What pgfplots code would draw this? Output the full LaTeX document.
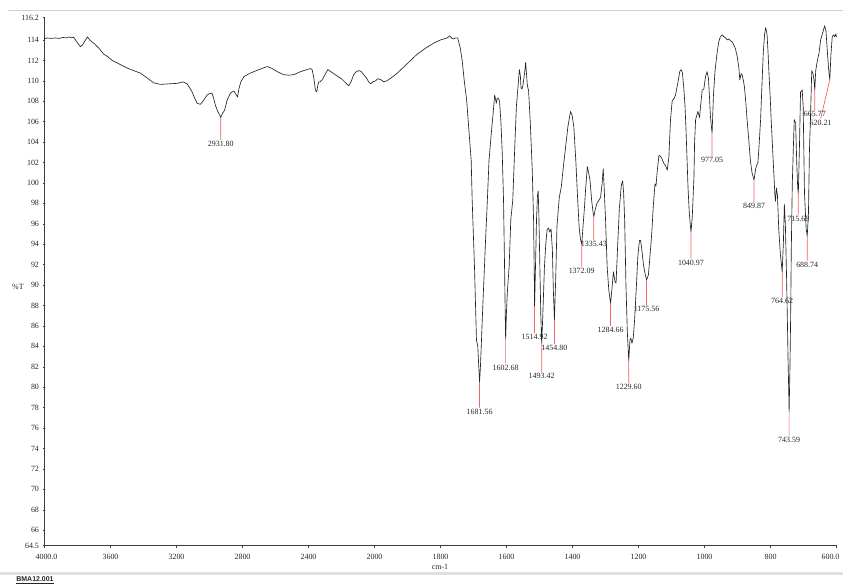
\documentclass[border=0pt]{standalone}
\usepackage{fontspec}
\setmainfont{Liberation Serif}
\newfontfamily\arialfont{Liberation Sans}
\usepackage{pgfplots}
\usepackage{pgfplotstable}
\pgfplotsset{compat=1.18}
\definecolor{peakred}{RGB}{238,100,100}
\definecolor{curvecol}{RGB}{35,35,35}
\definecolor{axisgray}{RGB}{60,60,60}
% wavenumber -> axis position (scale change at 2000 cm-1)
\pgfmathdeclarefunction{wn}{1}{\pgfmathparse{(4000-#1+max(0,2000-#1))/400}}

\pgfplotstableread{
w v
4000 114.1
3985 114.2
3960 114.15
3935 114.2
3910 114.15
3890 114.25
3870 114.2
3850 114.3
3835 114.2
3825 114.3
3812 114.0
3800 113.7
3782 113.35
3770 113.5
3755 113.9
3740 114.3
3725 114.0
3711 113.8
3695 113.6
3681 113.35
3670 113.2
3661 113.0
3640 112.6
3620 112.4
3590 112.0
3559 111.75
3530 111.5
3499 111.25
3460 111.0
3418 110.75
3380 110.3
3338 109.8
3297 109.65
3250 109.7
3196 109.75
3170 109.85
3160 109.9
3135 109.7
3120 109.3
3105 108.9
3090 108.3
3075 107.8
3055 107.7
3035 108.1
3015 108.6
3000 108.75
2985 108.8
2975 108.3
2964 107.6
2950 107.0
2940 106.7
2931.8 106.4
2922 106.8
2909 107.1
2893 108.1
2873 108.8
2853 109.0
2840 108.7
2830 108.4
2822 109.2
2810 109.9
2792 110.4
2760 110.7
2731 110.9
2700 111.1
2650 111.4
2620 111.2
2590 110.9
2550 110.6
2520 110.55
2489 110.6
2448 110.9
2410 111.1
2388 111.2
2378 111.1
2368 110.3
2358 109.1
2350 108.9
2343 109.6
2338 109.9
2330 109.9
2317 110.1
2300 110.6
2283 111.1
2265 110.9
2247 110.7
2200 110.2
2156 109.5
2140 110.0
2126 110.6
2110 110.9
2095 111.0
2080 110.9
2065 110.6
2050 110.3
2035 109.9
2024 109.7
2010 109.9
1997 110.0
1990 110.2
1980 110.1
1972 109.9
1962 110.0
1945 110.4
1931 110.75
1900 111.7
1871 112.6
1845 113.2
1820 113.7
1800 114.0
1790 114.1
1780 114.2
1772 114.4
1765 114.15
1760 114.1
1755 114.2
1748 114.2
1740 113.2
1734 111.9
1728 110.0
1721 108.2
1714 105.2
1707 102.2
1704 98.3
1697 91.8
1691 84.6
1687 84.0
1684 82.0
1681.56 80.5
1679 82.0
1677 83.6
1673 87.0
1669 90.1
1664 94.0
1658 98.3
1653 102.2
1646 104.9
1640 107.0
1636 108.6
1633 108.2
1631 107.8
1628 108.3
1625 108.3
1621 108.0
1617 106.0
1613 103.0
1609 98.3
1606 92.0
1604 87.5
1602.68 84.75
1600 87.5
1597 89.5
1592 91.8
1587 96.4
1581 98.3
1575 103.5
1570 107.5
1565 109.5
1561 111.1
1558 110.5
1556 109.3
1553 109.2
1550 109.6
1545 110.8
1542 111.8
1539 110.5
1537 109.6
1533 109.0
1528 106.0
1522 101.3
1518 96.4
1516 91.5
1514.92 87.9
1512 92.0
1509 96.5
1506 98.8
1504 99.2
1502 97.0
1499 92.0
1496 87.0
1493.42 84.3
1490 87.0
1485 91.8
1481 94.0
1477 95.4
1473 95.6
1469 95.2
1465 95.5
1461 93.5
1458 89.5
1454.8 86.6
1451 90.5
1447 95.8
1440 98.6
1434 99.6
1428 101.5
1421 103.5
1414 105.5
1406 107.0
1401 106.6
1396 105.5
1390 102.2
1385 98.8
1380 95.7
1376 94.5
1372.09 94.0
1368 95.8
1364 97.5
1360 99.5
1355 101.6
1350 100.8
1347 100.3
1342 98.3
1338 97.2
1335.43 96.7
1331 97.4
1326 98.0
1320 98.3
1315 98.6
1310 100.0
1307 101.4
1304 99.5
1300 96.5
1295 91.8
1290 89.5
1284.66 88.2
1280 89.8
1276 91.3
1271 90.3
1268 90.2
1263 94.0
1258 97.5
1252 99.8
1248 100.2
1245 99.0
1242 96.4
1238 90.0
1234 85.5
1229.6 82.6
1226 84.6
1223 84.8
1220 84.3
1216 84.8
1212 86.5
1207 89.5
1202 92.8
1197 94.4
1194 94.4
1190 93.5
1185 92.0
1180 91.1
1175.56 90.5
1170 91.0
1166 92.5
1160 95.0
1155 97.8
1150 99.9
1147 99.7
1143 101.25
1138 102.7
1133 102.6
1128 102.3
1123 101.9
1118 101.7
1113 101.25
1108 102.5
1103 106.2
1098 108.0
1092 108.3
1088 108.6
1081 109.75
1075 110.9
1071 111.1
1067 110.8
1063 109.4
1059 107.5
1056 105.2
1050 99.6
1046 97.0
1040.97 95.2
1037 96.7
1032 100.6
1030 104.0
1027 106.2
1020 107.0
1015 106.4
1012 107.5
1007 109.1
1002 109.2
997 110.4
992 110.9
988 110.2
985 108.5
982 106.5
977.05 104.85
973 108.5
968 111.0
962 112.7
957 113.8
952 114.3
946 114.5
941 114.3
936 114.2
931 114.0
926 114.1
921 113.9
916 113.8
911 113.5
906 113.1
901 112.4
896 111.3
893 110.1
889 110.7
886 110.6
882 110.0
879 109.4
875 108.0
871 106.2
866 104.3
861 102.2
856 101.0
849.87 100.3
845 101.4
841 101.8
838 102.0
834 104.0
830 106.2
826 109.5
822 112.7
818 114.5
815 115.2
812 114.9
810 114.3
807 112.5
805 111.0
801 108.5
798 106.2
794 103.6
790 101.0
787 99.0
785 98.2
782 99.5
779 98.8
775 95.5
770 93.0
764.62 91.3
761 94.1
758 97.9
755 96.0
752 91.8
749 86.9
747 83.0
745 80.0
743.59 77.6
741 82.0
739 86.9
737 93.4
734 99.9
731 103.2
728 106.2
724 105.9
720 101.5
717.5 99.5
715.68 99.0
712 104.0
709 108.9
704 109.1
701 107.5
697 99.0
692 95.5
688.74 94.8
685 97.0
682 103.2
679 106.2
675 111.0
671 110.7
668 110.0
665.77 109.1
663 111.0
658 112.0
653 112.7
648 114.0
643 114.6
640 114.9
636 115.4
632 114.9
628 113.0
624 111.2
620.21 110.1
617 112.5
613 114.3
609 114.5
605 114.3
602 114.6
600 114.3
}\spectrum

\pgfplotstableread{
w v
2931.80 106.4
2931.80 104.2
2931.80 nan
1681.56 80.5
1681.56 78.0
1681.56 nan
1602.68 84.75
1602.68 82.3
1602.68 nan
1514.92 87.9
1514.92 85.3
1514.92 nan
1493.42 84.3
1493.42 81.5
1493.42 nan
1454.80 86.6
1454.80 84.2
1454.80 nan
1372.09 94.0
1372.09 91.8
1372.09 nan
1335.43 96.7
1335.43 94.4
1335.43 nan
1284.66 88.2
1284.66 86.0
1284.66 nan
1229.60 82.6
1229.60 80.4
1229.60 nan
1175.56 90.5
1175.56 88.0
1175.56 nan
1040.97 95.2
1040.97 92.6
1040.97 nan
977.05 104.85
977.05 102.6
977.05 nan
849.87 100.3
849.87 98.1
849.87 nan
764.62 91.3
764.62 88.8
764.62 nan
743.59 77.6
743.59 75.2
743.59 nan
715.68 99.0
715.68 96.9
715.68 nan
688.74 94.8
688.74 92.4
688.74 nan
665.77 109.1
665.77 107.1
665.77 nan
620.21 110.1
648 106.3
}\peaklines

\pgfplotstableread{
w v lab
2931.80 104.2 2931.80
1681.56 78.0 1681.56
1602.68 82.3 1602.68
1514.92 85.3 1514.92
1493.42 81.5 1493.42
1454.80 84.2 1454.80
1372.09 91.8 1372.09
1335.43 94.4 1335.43
1284.66 86.0 1284.66
1229.60 80.4 1229.60
1175.56 88.0 1175.56
1040.97 92.6 1040.97
977.05 102.6 977.05
849.87 98.1 849.87
764.62 88.8 764.62
743.59 75.2 743.59
715.68 96.9 715.68
688.74 92.4 688.74
665.77 107.1 665.77
648 106.3 620.21
}\peaklabels

\begin{document}
\begin{tikzpicture}
\begin{axis}[
  at={(0,0)}, anchor=south west,
  scale only axis, width=792bp, height=528bp,
  xmin=0, xmax=12, ymin=64.5, ymax=116.2,
  axis x line*=bottom, axis y line*=left,
  axis line style={axisgray, line width=0.5bp, -},
  xtick={0,1,2,3,4,5,6,7,8,9,10,11,12},
  xticklabels={4000.0\hspace*{-4bp},3600,3200,2800,2400,2000,1800,1600,1400,1200,1000,800,\hspace*{-12bp}600.0},
  ytick={64.5,66,68,70,72,74,76,78,80,82,84,86,88,90,92,94,96,98,100,102,104,106,108,110,112,114,116.2},
  tick align=outside, major tick length=2bp,
  tick style={axisgray, line width=0.4bp},
  tick label style={font=\fontsize{8}{9}\selectfont, text=black!85},
  /pgf/number format/assume math mode=true,
  xticklabel style={anchor=north, yshift=-3bp},
  yticklabel style={anchor=east},
  clip=false,
  unbounded coords=jump,
]
\addplot[curvecol, line width=0.65bp, line join=round, mark=none]
  table[x expr={wn(\thisrow{w})}, y=v] {\spectrum};
\addplot[peakred, line width=0.7bp, mark=none]
  table[x expr={wn(\thisrow{w})}, y=v] {\peaklines};
\addplot[draw=none, mark=none,
  point meta=explicit symbolic,
  nodes near coords={\pgfplotspointmeta},
  nodes near coords style={anchor=north, inner sep=1bp, text=black!85,
    font=\fontsize{8}{9}\selectfont}]
  table[x expr={wn(\thisrow{w})}, y=v, meta=lab] {\peaklabels};
\node[font=\fontsize{8}{9}\selectfont, text=black!85] at (axis description cs:-0.0335,0.49) {\%T};
\node[font=\fontsize{8}{9}\selectfont, text=black!85] at (axis description cs:0.4994,-0.0407) {cm-1};
\end{axis}
\draw[black!18, line width=0.8bp] (-36bp,535.5bp) -- (798.5bp,535.5bp);
\draw[black!12, line width=3bp] (-44.5bp,-27.5bp) -- (798.5bp,-27.5bp);
\node[font=\arialfont\bfseries\fontsize{7}{8}\selectfont, text=black!85] at (-9.5bp,-34.5bp) {\underline{BMA12.001}};
\pgfresetboundingbox
\useasboundingbox (-44.5bp,-39.5bp) rectangle (798.5bp,545.5bp);
\end{tikzpicture}
\end{document}
